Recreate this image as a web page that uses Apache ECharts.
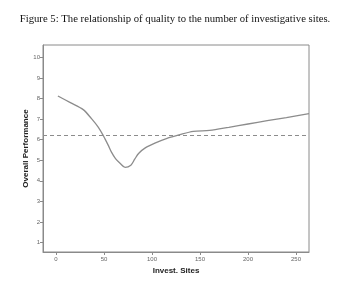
<!DOCTYPE html>
<html>
<head>
<meta charset="utf-8">
<script src="https://cdn.jsdelivr.net/npm/echarts@6/dist/echarts.min.js"></script>
<style>html,body{margin:0;padding:0;background:#fff;}#c{width:350px;height:303px;}</style>
</head>
<body>
<div id="c"></div>
<script>
var titleText = 'Figure 5: The relationship of quality to the number of investigative sites.';
var xName = 'Invest. Sites';
var yName = 'Overall Performance';
var xTicks = [0, 50, 100, 150, 200, 250];
var yTicks = [1, 2, 3, 4, 5, 6, 7, 8, 9, 10];
var sites = [2, 15, 28.4, 37, 44, 49, 54.5, 57.5, 62, 67, 72, 78, 82, 86, 93, 103, 115, 129, 143, 160, 180, 200, 220, 240, 263.5];
var performance = [8.12, 7.8, 7.46, 7.02, 6.61, 6.22, 5.72, 5.42, 5.08, 4.84, 4.65, 4.76, 5.05, 5.33, 5.6, 5.83, 6.05, 6.24, 6.4, 6.45, 6.6, 6.76, 6.92, 7.07, 7.26];
var referenceLevel = [6.22];

var chart = echarts.init(document.getElementById('c'), null, {renderer: 'canvas'});
var lineData = sites.map(function (s, i) { return [s, performance[i]]; });
var axisColor = '#8a8a8a';
chart.setOption({
  animation: false,
  title: {
    text: titleText, left: 'center', top: 9,
    textStyle: {fontFamily: 'Liberation Serif', fontWeight: 'normal', fontSize: 10.7, color: '#111'}
  },
  grid: {left: 43, right: 41, top: 45, bottom: 51, show: true, borderColor: axisColor, borderWidth: 1, backgroundColor: '#fff', outerBoundsMode: 'none', containLabel: false},
  xAxis: {
    type: 'value', min: -13.5, max: 263.5,
    name: xName, nameLocation: 'middle', nameGap: 15, nameMoveOverlap: false,
    nameTextStyle: {fontFamily: 'Liberation Sans', fontWeight: 'bold', fontSize: 8, color: '#222'},
    axisLine: {show: true, onZero: false, lineStyle: {color: axisColor, width: 1}},
    axisTick: {show: true, length: 3, lineStyle: {color: axisColor}, customValues: xTicks},
    axisLabel: {fontFamily: 'Liberation Sans', fontSize: 6, color: '#666', margin: 4, customValues: xTicks},
    splitLine: {show: false}
  },
  yAxis: {
    type: 'value', min: 0.54, max: 10.6,
    name: yName, nameLocation: 'middle', nameGap: 13, nameRotate: 90, nameMoveOverlap: false,
    nameTextStyle: {fontFamily: 'Liberation Sans', fontWeight: 'bold', fontSize: 8, color: '#222'},
    axisLine: {show: true, onZero: false, lineStyle: {color: axisColor, width: 1}},
    axisTick: {show: true, length: 3, lineStyle: {color: axisColor}, customValues: yTicks},
    axisLabel: {fontFamily: 'Liberation Sans', fontSize: 6, color: '#666', margin: 3, customValues: yTicks},
    splitLine: {show: false}
  },
  series: [{
    type: 'line', data: lineData, smooth: 0.3, showSymbol: false,
    lineStyle: {color: '#8c8c8c', width: 1.3},
    markLine: {
      silent: true, symbol: 'none', label: {show: false},
      lineStyle: {color: '#8c8c8c', type: [4, 3], width: 1.2},
      data: [{yAxis: referenceLevel[0]}]
    }
  }]
});
</script>
</body>
</html>
